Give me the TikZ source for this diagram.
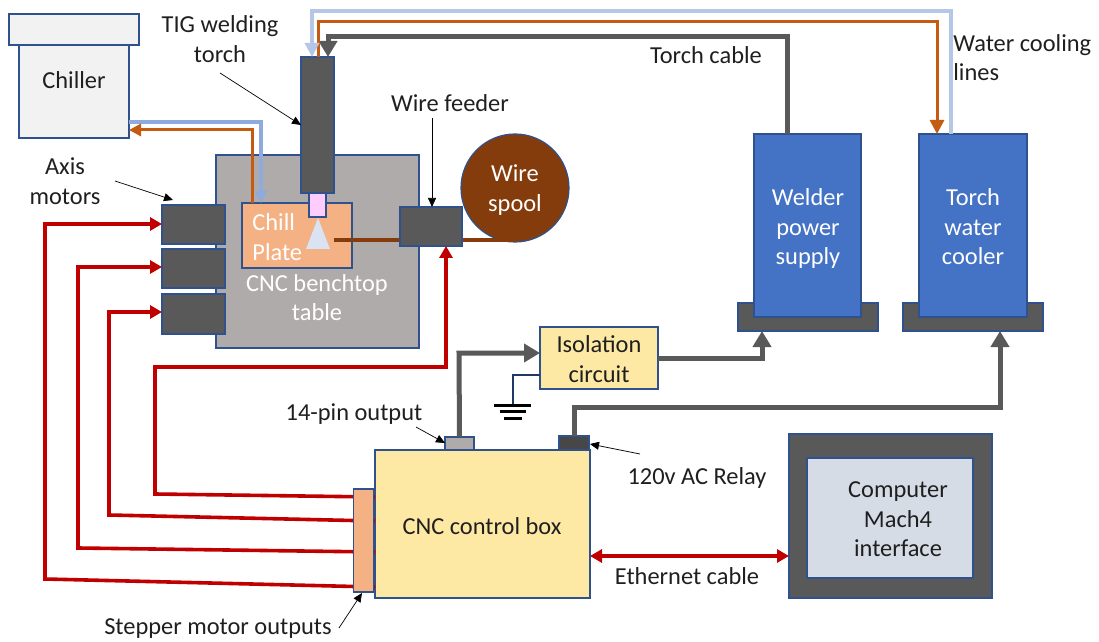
\documentclass[tikz,border=0pt]{standalone}
\usepackage{fontspec}
\setmainfont{Carlito}
\usetikzlibrary{arrows.meta}
\definecolor{edgeblue}{HTML}{2F528F}
\definecolor{darkgrey}{HTML}{595959}
\definecolor{tablegrey}{HTML}{AFABAB}
\definecolor{chillergrey}{HTML}{F2F2F2}
\definecolor{plateorange}{HTML}{F4B183}
\definecolor{boxyellow}{HTML}{FDE9A4}
\definecolor{supplyblue}{HTML}{4472C4}
\definecolor{wirebrown}{HTML}{843C0C}
\definecolor{hotorange}{HTML}{C55A11}
\definecolor{coldblue}{HTML}{8FAADC}
\definecolor{paleblue}{HTML}{B4C7E7}
\definecolor{stepred}{HTML}{C00000}
\definecolor{groundblue}{HTML}{1F3864}
\definecolor{tippink}{HTML}{FFCCFF}
\definecolor{arcblue}{HTML}{DAE3F3}
\definecolor{screenblue}{HTML}{D6DCE5}
\tikzset{
    panel/.style 2 args = {draw=edgeblue, line width=0.6pt, anchor=north west, inner sep=0pt, outer sep=0pt,
        minimum width=#1*0.5pt, minimum height=#2*0.5pt},
    words/.style = {align=center, inner sep=0pt, text=black!88, font=\fontsize{12.2}{14.7}\selectfont},
    whitewords/.style = {words, text=white},
    pointer/.style = {black, line width=0.35pt, -{Triangle[length=4.5pt, width=4pt]}},
    stepline/.style = {stepred, line width=1.8pt, -{Triangle[length=6pt, width=6.5pt]}},
    signalline/.style = {darkgrey, line width=2.5pt, -{Triangle[length=8pt, width=9pt]}},
    hotline/.style = {hotorange, line width=1.5pt, -{Triangle[length=6pt, width=6pt]}},
    coldline/.style = {line width=1.7pt, -{Triangle[length=6pt, width=6pt]}}
}
\begin{document}
\begin{tikzpicture}[x=0.5pt, y=-0.5pt]
    \useasboundingbox (0,0) rectangle (1099,642);
    % chiller
    \node[panel={110}{93}, fill=chillergrey] (chiller) at (19,45) {};
    \node[panel={130}{31}, fill=chillergrey] (chillerlid) at (9,14) {};
    \node[words] (chillertext) at (74,80) {Chiller};
    % table and welding head
    \node[panel={203}{193}, fill=tablegrey] (table) at (216,155) {};
    \node[panel={110}{65}, fill=plateorange] (plate) at (242,203) {};
    \node[panel={17}{24}, fill=tippink] (tip) at (309,193) {};
    \node[panel={33}{136}, fill=darkgrey] (torch) at (301,57) {};
    \fill[arcblue] (318,218) coordinate (arctop) -- (330,249) -- (306,249) -- cycle;
    \node[whitewords, align=left, anchor=west] (platetext) at (252,237) {Chill\\Plate};
    \node[whitewords] (tabletext) at (317,297.5) {CNC benchtop\\table};
    % wire
    \node[circle, draw=edgeblue, line width=0.6pt, fill=wirebrown, inner sep=0pt, minimum size=54pt] (spool) at (515,188) {};
    \node[whitewords] (spooltext) at (515,190) {Wire\\spool};
    \coordinate (wirestart) at (334,240);
    \coordinate (wireend) at (515,240);
    \draw[wirebrown, line width=1.7pt] (wirestart) -- (wireend);
    \node[panel={62}{39}, fill=darkgrey] (feeder) at (400,207) {};
    % motors
    \node[panel={63}{39}, fill=darkgrey] (motorx) at (162,205) {};
    \node[panel={63}{39}, fill=darkgrey] (motory) at (162,249) {};
    \node[panel={63}{40}, fill=darkgrey] (motorz) at (162,294) {};
    % power supplies
    \node[panel={140}{28}, fill=darkgrey] (welderbase) at (738,303) {};
    \node[panel={107}{183}, fill=supplyblue] (welder) at (754,134) {};
    \node[whitewords] (weldertext) at (808,228.5) {Welder\\power\\supply};
    \node[panel={140}{28}, fill=darkgrey] (coolerbase) at (903,303) {};
    \node[panel={108}{183}, fill=supplyblue] (cooler) at (919,134) {};
    \node[whitewords] (coolertext) at (973,227) {Torch\\water\\cooler};
    % control side
    \node[panel={118}{62}, fill=boxyellow] (isolation) at (540,327) {};
    \node[words] (isolationtext) at (599,359) {Isolation\\circuit};
    \node[panel={215}{148}, fill=boxyellow] (control) at (375,450) {};
    \node[words] (controltext) at (482,526) {CNC control box};
    \node[panel={29}{13}, fill=tablegrey] (pinout) at (445,437) {};
    \node[panel={30}{14}, fill=darkgrey!80!black] (relay) at (559,436) {};
    \node[panel={203}{164}, fill=darkgrey] (computer) at (789,434) {};
    \node[panel={166}{120}, fill=screenblue] (screen) at (807,458) {};
    \node[words] (screentext) at (898,519.5) {Computer\\Mach4\\interface};
    % red stepper lines
    \coordinate (outa) at (375,497);
    \coordinate (outb) at (375,521);
    \coordinate (outc) at (375,552);
    \coordinate (outd) at (375,587);
    \draw[stepline] (outa) -- (155,494) -- (155,367) -- (446,367) -- (feeder.south -| 446,0);
    \draw[stepline] (outb) -- (109,515) -- (109,312) -- (motorz.west |- 0,312);
    \draw[stepline] (outc) -- (78,548) -- (78,267) -- (motory.west |- 0,267);
    \draw[stepline] (outd) -- (45,579) -- (45,224) -- (motorx.west |- 0,224);
    \node[panel={20}{103}, fill=plateorange] (outputs) at (353.5,489) {};
    \draw[stepred, line width=1.8pt, {Triangle[length=6pt, width=6.5pt]}-{Triangle[length=6pt, width=6.5pt]}] (control.east |- 0,556) -- (computer.west |- 0,556);
    % torch cable and water lines
    \draw[signalline] (welder.north -| 787,0) -- (787,37) -- (328,37) -- (torch.north -| 328,0);
    \draw[hotline, -{Triangle[length=7pt, width=7pt]}] (torch.north -| 318,0) -- (318,22) -- (937,22) -- (cooler.north -| 937,0);
    \draw[coldline, paleblue, -{Triangle[length=7pt, width=7pt]}] (cooler.north -| 951,0) -- (951,11) -- (312,11) -- (torch.north -| 312,0);
    \draw[coldline, coldblue] (chiller.east |- 0,122) -- (261,122) -- (plate.north -| 261,0);
    \draw[hotline] (plate.north -| 252,0) -- (252,130) -- (chiller.east |- 0,130);
    % signals
    \draw[signalline] (pinout.north) -- (459,353) -- (isolation.west |- 0,353);
    \draw[signalline] (isolation.east |- 0,358) -- (762,358) -- (welderbase.south -| 762,0);
    \draw[signalline] (relay.north) -- (574,407) -- (1000,407) -- (coolerbase.south -| 1000,0);
    % ground
    \coordinate (groundtop) at (513,405);
    \draw[groundblue, line width=1.2pt] (isolation.west |- 0,375) -- (513,375) -- (groundtop);
    \draw[black, line width=1.5pt] (494,405) -- (531,405) (500,411) -- (526,411) (504,418) -- (522,418);
    % labels
    \node[words] (torchlabel) at (220,39) {TIG welding\\torch};
    \node[words] (axislabel) at (65,181) {Axis\\motors};
    \node[words] (feederlabel) at (450,103) {Wire feeder};
    \node[words] (cablelabel) at (706,55) {Torch cable};
    \node[words, align=left, anchor=west] (waterlabel) at (953,57.5) {Water cooling\\lines};
    \node[words] (pinlabel) at (354,414) {14-pin output};
    \node[words] (relaylabel) at (697,478) {120v AC Relay};
    \node[words] (ethernetlabel) at (687,576) {Ethernet cable};
    \node[words] (stepperlabel) at (218,629) {Stepper motor outputs};
    \coordinate (torchfrom) at (220,73);
    \coordinate (axisfrom) at (115,181);
    \coordinate (axisto) at (173,200);
    \coordinate (feederfrom) at (432,118);
    \coordinate (pinfrom) at (416,427);
    \coordinate (relayfrom) at (640,454);
    \coordinate (stepperfrom) at (339,628);
    \draw[pointer] (torchfrom) -- (torch.west |- 0,125);
    \draw[pointer] (axisfrom) -- (axisto);
    \draw[pointer] (feederfrom) -- (feeder.north -| 432,0);
    \draw[pointer] (pinfrom) -- (445,443);
    \draw[pointer] (relayfrom) -- (590,444);
    \draw[pointer] (stepperfrom) -- (362,593);
\end{tikzpicture}
\end{document}
